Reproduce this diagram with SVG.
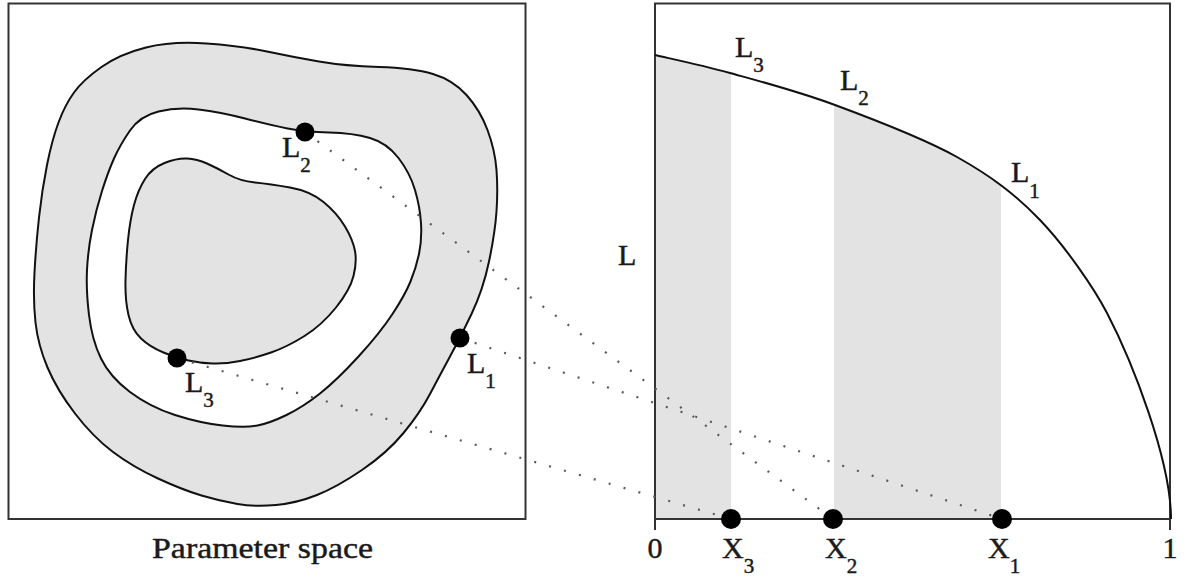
<svg xmlns="http://www.w3.org/2000/svg" width="1188" height="580" viewBox="0 0 1188 580">
  <defs>
    <style>
      .lbl { font-family: "Liberation Serif", "Times New Roman", serif; font-size: 30px; fill: #1a1a1a; stroke: #1a1a1a; stroke-width: 0.45px; }
      .sub { font-size: 21px; }
      .box { fill: none; stroke: #333; stroke-width: 2; }
      .contour { stroke: #111; stroke-width: 2; }
      .gray { fill: #e3e3e3; }
      .white { fill: #ffffff; }
      .dot { fill: #000; }
      .dotted { fill: none; stroke: #5a5a5a; stroke-width: 2.2; stroke-dasharray: 2 13.5; }
      .curve { fill: none; stroke: #111; stroke-width: 2; }
    </style>
    <clipPath id="under-curve">
      <path d="M 655,519 L 655,55 C 667.5,58 700,64.7 730,73 C 760,81.3 797.2,91 835,105 C 872.8,119 922.8,137.8 957,157 C 991.2,176.2 1015,194 1040,220 C 1065,246 1094,288 1107,313 C 1132,361 1171,460 1171,519 Z"/>
    </clipPath>
  </defs>

  <rect width="1188" height="580" fill="#ffffff"/>

  <!-- Left panel: parameter space -->
  <g id="parameter-space">
    <rect class="box" x="8.5" y="3.5" width="517" height="515.5"/>
    <path id="contour-outer" class="contour gray" d="M 206.5,43.5 Q 241,46 267,51.5 Q 293,57 319,61.5 Q 345,66 379,67 Q 413,68 433,74 Q 453,80 466.5,95 Q 480,110 487.5,130 Q 495,150 496.5,170 Q 498,190 496.5,211.5 Q 495,233 489,261.5 Q 483,290 471.5,314 Q 460,338 450,356.5 Q 440,375 430,394 Q 420,413 403.5,433 Q 387,453 362,470 Q 337,487 317,495 Q 297,503 276,505 Q 255,507 237.5,504 Q 220,501 201.5,495.5 Q 183,490 158,478.5 Q 133,467 113,452 Q 93,437 75,413.5 Q 57,390 47.5,367.5 Q 38,345 35.5,322.5 Q 33,300 34.5,272.5 Q 36,245 39,217.5 Q 42,190 47,165 Q 52,140 58.5,122.5 Q 65,105 74,92.5 Q 83,80 101.5,67 Q 120,54 146,47.5 Q 172,41 206.5,43.5 Z"/>
    <path id="contour-middle" class="contour white" d="M 198.5,109.5 Q 220,112 245,118.5 Q 270,125 287.5,128.5 Q 305,132 329,132.5 Q 353,133 370,138 Q 387,143 398.5,158 Q 410,173 415,190 Q 420,207 421,223.5 Q 422,240 419,254 Q 416,268 410.5,281.5 Q 405,295 392.5,314 Q 380,333 358.5,356.5 Q 337,380 320,393.5 Q 303,407 286.5,415 Q 270,423 257.5,425.5 Q 245,428 222.5,425.5 Q 200,423 175,415 Q 150,407 130,392 Q 110,377 101,358.5 Q 92,340 89,315 Q 86,290 87,270 Q 88,250 92,230 Q 96,210 102,191 Q 108,172 114,158.5 Q 120,145 130,130.5 Q 140,116 158.5,111.5 Q 177,107 198.5,109.5 Z"/>
    <path id="contour-inner" class="contour gray" d="M 187,158.5 Q 197,159 207,163.5 Q 217,168 228.5,174.5 Q 240,181 255,182.5 Q 270,184 290,187.5 Q 310,191 323.5,202 Q 337,213 345,226.5 Q 353,240 355,251 Q 357,262 353.5,276 Q 350,290 336,307.5 Q 322,325 304.5,336 Q 287,347 271,352.5 Q 255,358 240,361 Q 225,364 212.5,363.5 Q 200,363 188.5,360.5 Q 177,358 163.5,352.5 Q 150,347 141,338.5 Q 132,330 128.5,315 Q 125,300 125.5,280 Q 126,260 128,240 Q 130,220 134,205 Q 138,190 145,179 Q 152,168 164.5,163 Q 177,158 187,158.5 Z"/>
    <text class="lbl" x="152" y="558" textLength="221" lengthAdjust="spacingAndGlyphs">Parameter space</text>
  </g>

  <!-- Right panel: L versus X -->
  <g id="lx-plot">
    <g clip-path="url(#under-curve)">
      <rect class="gray" x="655" y="0" width="76" height="519"/>
      <rect class="gray" x="834" y="0" width="167" height="519"/>
    </g>
    <rect class="box" x="655" y="3.5" width="515" height="515.5"/>
    <line class="box" x1="655" y1="519" x2="655" y2="530"/>
    <line class="box" x1="1170" y1="519" x2="1170" y2="530"/>
    <path id="lx-curve" class="curve" d="M 655,55 C 667.5,58 700,64.7 730,73 C 760,81.3 797.2,91 835,105 C 872.8,119 922.8,137.8 957,157 C 991.2,176.2 1015,194 1040,220 C 1065,246 1094,288 1107,313 C 1132,361 1171,460 1171,519"/>
    <text class="lbl" x="618" y="265">L</text>
    <text class="lbl" x="735" y="57">L<tspan class="sub" dy="15">3</tspan></text>
    <text class="lbl" x="840" y="90">L<tspan class="sub" dy="15">2</tspan></text>
    <text class="lbl" x="1011" y="182">L<tspan class="sub" dy="16">1</tspan></text>
    <text class="lbl" x="655" y="558" text-anchor="middle">0</text>
    <text class="lbl" x="1170" y="558" text-anchor="middle">1</text>
    <text class="lbl" x="722" y="558">X<tspan class="sub" dy="15">3</tspan></text>
    <text class="lbl" x="825" y="558">X<tspan class="sub" dy="15">2</tspan></text>
    <text class="lbl" x="988" y="558">X<tspan class="sub" dy="15">1</tspan></text>
  </g>

  <!-- Connectors -->
  <g id="connectors">
    <line class="dotted" x1="305" y1="132" x2="833" y2="519"/>
    <line class="dotted" x1="460" y1="338" x2="1002" y2="519"/>
    <line class="dotted" x1="177" y1="358" x2="731" y2="519"/>
  </g>

  <!-- Points -->
  <g id="point-L2"><circle class="dot" cx="305" cy="132" r="9.5"/><text class="lbl" x="282" y="157">L<tspan class="sub" dy="15">2</tspan></text></g>
  <g id="point-L3"><circle class="dot" cx="177" cy="358" r="9.5"/><text class="lbl" x="185" y="392">L<tspan class="sub" dy="15">3</tspan></text></g>
  <g id="point-L1"><circle class="dot" cx="460" cy="338" r="9.5"/><text class="lbl" x="467" y="373">L<tspan class="sub" dy="15">1</tspan></text></g>
  <g id="point-X3"><circle class="dot" cx="731" cy="519" r="10"/></g>
  <g id="point-X2"><circle class="dot" cx="833" cy="519" r="10"/></g>
  <g id="point-X1"><circle class="dot" cx="1002" cy="519" r="10"/></g>
</svg>
